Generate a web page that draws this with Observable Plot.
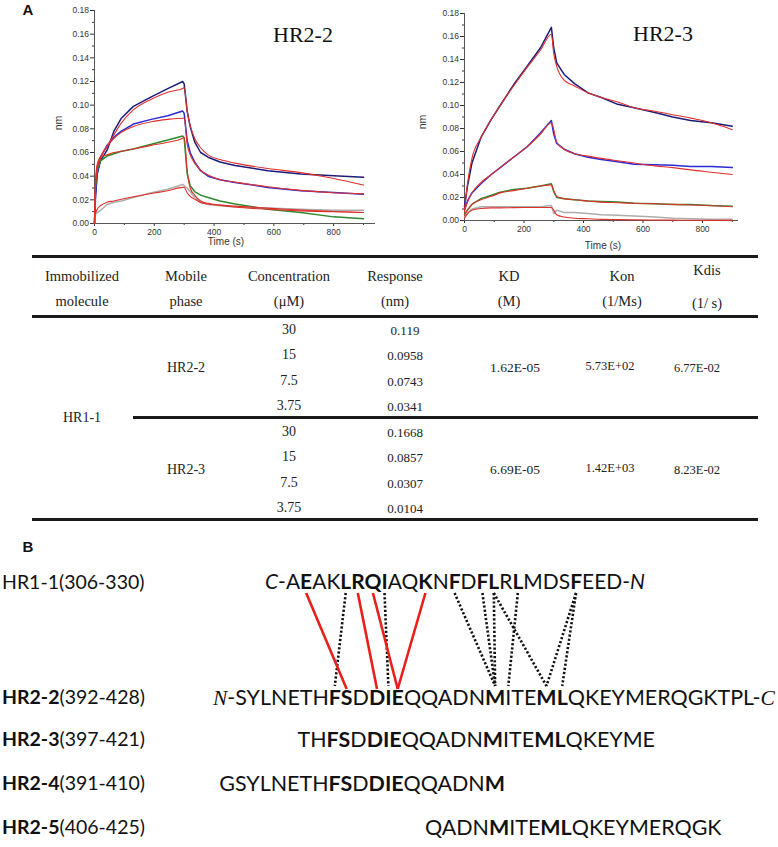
<!DOCTYPE html>
<html><head><meta charset="utf-8">
<script src="https://cdn.jsdelivr.net/npm/d3@7"></script>
<script src="https://cdn.jsdelivr.net/npm/@observablehq/plot@0.6"></script>
<style>
body{margin:0;background:#fff;}
#root{position:relative;width:778px;height:847px;overflow:hidden;background:#fff;}
.t{position:absolute;white-space:nowrap;line-height:1;transform:translate(-50%,-50%);color:#222;}
.hl{position:absolute;background:#1a1a1a;height:3px;}
.abs{position:absolute;}
</style></head><body><div id="root"></div>
<script>
// ---------- Panel A: sensorgram data ----------
const yTicks = [0, 0.02, 0.04, 0.06, 0.08, 0.10, 0.12, 0.14, 0.16, 0.18];
const yMinorTicks = [0.01, 0.03, 0.05, 0.07, 0.09, 0.11, 0.13, 0.15, 0.17];
const xTicks = [0, 200, 400, 600, 800];
const xMinorTicks = [100, 300, 500, 700, 900];

// HR2-2 (left)
const leftTimes = [0, 3, 9, 20, 42, 65, 90, 130, 190, 245, 295, 300, 310, 320, 335, 355, 380, 420, 470, 580, 690, 800, 900];
const left30raw = [0, 0.025, 0.042, 0.053, 0.062, 0.078, 0.089, 0.099, 0.107, 0.114, 0.120, 0.118, 0.095, 0.082, 0.069, 0.060, 0.056, 0.052, 0.049, 0.0446, 0.0418, 0.0403, 0.039];
const left30fit = [0, 0.030, 0.048, 0.056, 0.065, 0.075, 0.085, 0.096, 0.105, 0.111, 0.114, 0.115, 0.095, 0.083, 0.072, 0.064, 0.058, 0.054, 0.051, 0.0465, 0.043, 0.038, 0.0325];
const left15raw = [0, 0.020, 0.042, 0.056, 0.066, 0.073, 0.078, 0.084, 0.088, 0.091, 0.095, 0.093, 0.070, 0.060, 0.052, 0.0446, 0.040, 0.037, 0.0347, 0.0305, 0.0277, 0.0262, 0.0248];
const left15fit = [0, 0.030, 0.046, 0.055, 0.065, 0.072, 0.077, 0.082, 0.086, 0.088, 0.089, 0.089, 0.067, 0.058, 0.051, 0.045, 0.041, 0.037, 0.035, 0.031, 0.028, 0.026, 0.025];
const left7raw = [0, 0.030, 0.045, 0.053, 0.057, 0.059, 0.061, 0.063, 0.067, 0.0705, 0.074, 0.072, 0.042, 0.032, 0.027, 0.024, 0.022, 0.019, 0.0164, 0.0121, 0.0093, 0.0056, 0.004];
const left7fit = [0, 0.035, 0.050, 0.056, 0.058, 0.060, 0.061, 0.063, 0.066, 0.0686, 0.072, 0.073, 0.045, 0.030, 0.024, 0.019, 0.017, 0.0155, 0.014, 0.012, 0.0107, 0.0099, 0.0093];
const left3raw = [0, 0.008, 0.009, 0.011, 0.016, 0.018, 0.019, 0.022, 0.026, 0.029, 0.033, 0.032, 0.030, 0.027, 0.022, 0.0178, 0.016, 0.015, 0.014, 0.013, 0.012, 0.0113, 0.0113];
const left3fit = [0, 0.008, 0.012, 0.015, 0.018, 0.019, 0.0205, 0.0226, 0.0254, 0.0277, 0.0305, 0.0305, 0.026, 0.023, 0.0206, 0.0178, 0.0165, 0.0155, 0.0147, 0.013, 0.0113, 0.0102, 0.0093];

// HR2-3 (right)
const rightTimes = [0, 10, 25, 55, 90, 120, 165, 210, 255, 292, 300, 310, 335, 370, 415, 460, 515, 570, 640, 700, 760, 830, 900];
const right30raw = [0.012, 0.030, 0.050, 0.072, 0.088, 0.100, 0.118, 0.134, 0.150, 0.168, 0.150, 0.137, 0.127, 0.119, 0.111, 0.107, 0.101, 0.098, 0.094, 0.090, 0.087, 0.085, 0.082];
const right30fit = [0.008, 0.032, 0.054, 0.072, 0.088, 0.100, 0.117, 0.133, 0.148, 0.162, 0.145, 0.134, 0.122, 0.117, 0.111, 0.107, 0.103, 0.098, 0.095, 0.092, 0.089, 0.085, 0.079];
const right15raw = [0.010, 0.017, 0.024, 0.032, 0.040, 0.046, 0.055, 0.064, 0.076, 0.087, 0.075, 0.067, 0.062, 0.058, 0.055, 0.053, 0.051, 0.049, 0.0485, 0.048, 0.047, 0.047, 0.046];
const right15fit = [0.008, 0.016, 0.024, 0.033, 0.040, 0.046, 0.055, 0.064, 0.075, 0.085, 0.079, 0.068, 0.062, 0.058, 0.056, 0.054, 0.052, 0.050, 0.0475, 0.046, 0.044, 0.042, 0.040];
const right7raw = [0.005, 0.009, 0.014, 0.019, 0.022, 0.0246, 0.027, 0.028, 0.030, 0.032, 0.025, 0.020, 0.019, 0.018, 0.017, 0.0165, 0.016, 0.015, 0.0145, 0.014, 0.014, 0.013, 0.0125];
const right7fit = [0.005, 0.009, 0.014, 0.018, 0.021, 0.024, 0.026, 0.028, 0.030, 0.031, 0.026, 0.021, 0.019, 0.018, 0.017, 0.016, 0.0155, 0.015, 0.0145, 0.014, 0.0135, 0.0128, 0.012];
const right3raw = [0.003, 0.006, 0.010, 0.012, 0.012, 0.012, 0.012, 0.012, 0.012, 0.013, 0.006, 0.009, 0.007, 0.007, 0.006, 0.005, 0.0045, 0.004, 0.003, 0.002, 0.0015, 0.001, 0.001];
const right3fit = [0.002, 0.006, 0.009, 0.0105, 0.011, 0.011, 0.0112, 0.0113, 0.0113, 0.0113, 0.009, 0.005, 0.003, 0.002, 0.0015, 0.001, 0.0008, 0.0006, 0.0004, 0.0003, 0.0002, 0.0001, 0.0001];

const seriesColors = ["#1b1b7a", "#2a2ad8", "#2d8a2d", "#adadad"];
const fitColor = "#e0302c";

// ---------- Table data ----------
const headerRow1 = ["Immobilized", "Mobile", "Concentration", "Response", "KD", "Kon", "Kdis"];
const headerRow2 = ["molecule", "phase", "(\u03bcM)", "(nm)", "(M)", "(1/Ms)", "(1/ s)"];
const immobilized = "HR1-1";
const mobilePhases = ["HR2-2", "HR2-3"];
const concentrations = ["30", "15", "7.5", "3.75"];
const responses = [["0.119", "0.0958", "0.0743", "0.0341"], ["0.1668", "0.0857", "0.0307", "0.0104"]];
const kdValues = ["1.62E-05", "6.69E-05"];
const konValues = ["5.73E+02", "1.42E+03"];
const kdisValues = ["6.77E-02", "8.23E-02"];

// ---------- Panel B data ----------
const rowLabels = [["", "HR1-1(306-330)"], ["HR2-2", "(392-428)"], ["HR2-3", "(397-421)"], ["HR2-4", "(391-410)"], ["HR2-5", "(406-425)"]];
const hr1Seq = "C-AEAKLRQIAQKNFDFLRLMDSFEED-N";
const hr1Bold = [3, 6, 7, 8, 9, 12, 14, 16, 17, 19, 23];
const hr1Italic = [0, 28];
const hr22Seq = "N-SYLNETHFSDDIEQQADNMITEMLQKEYMERQGKTPL-C";
const hr22Bold = [9, 10, 12, 13, 14, 20, 24, 25];
const hr22SerifItalic = [0, 40];
const hr23Seq = "THFSDDIEQQADNMITEMLQKEYME";
const hr23Bold = [2, 3, 5, 6, 7, 13, 17, 18];
const hr24Seq = "GSYLNETHFSDDIEQQADNM";
const hr24Bold = [8, 9, 11, 12, 13, 19];
const hr25Seq = "QADNMITEMLQKEYMERQGK";
const hr25Bold = [4, 8, 9];
// pairs: [index in HR1-1 sequence, index in HR2-2 sequence]
const saltBridges = [[3, 10], [7, 12], [8, 14], [12, 14]];
const hydrophobicContacts = [[6, 9], [9, 13], [14, 20], [16, 20], [17, 20], [17, 24], [19, 21], [23, 24], [23, 25]];

// ---------- helpers ----------
const root = document.getElementById("root");
function txt(content, x, y, style) {
  const d = document.createElement("div");
  d.className = "t";
  d.textContent = content;
  d.style.left = x + "px";
  d.style.top = y + "px";
  Object.assign(d.style, style || {});
  root.appendChild(d);
  return d;
}
function hline(x0, x1, y) {
  const d = document.createElement("div");
  d.className = "hl";
  d.style.left = x0 + "px"; d.style.width = (x1 - x0) + "px"; d.style.top = (y - 1.5) + "px";
  root.appendChild(d);
}

function sensorPlot(times, raws, fits, xMax, w, h, m) {
  const marks = [
    Plot.axisY({ticks: yTicks, tickSize: 4, tickPadding: 1.5, tickFormat: d3.format(".2f"), label: null}),
    Plot.axisY({ticks: yMinorTicks, tickSize: 2, tickFormat: () => "", label: null}),
    Plot.axisX({ticks: xTicks, tickSize: 3, tickPadding: 2, tickFormat: d3.format("d"), label: null}),
    Plot.axisX({ticks: xMinorTicks, tickSize: 2, tickFormat: () => "", label: null}),
    Plot.ruleX([0], {stroke: "#555"}),
    Plot.ruleY([0], {stroke: "#555"})
  ];
  raws.forEach((vals, k) => {
    marks.push(Plot.line(times.map((t, i) => ({t, v: vals[i]})), {x: "t", y: "v", stroke: seriesColors[k], strokeWidth: 1.5}));
  });
  fits.forEach((vals) => {
    marks.push(Plot.line(times.map((t, i) => ({t, v: vals[i]})), {x: "t", y: "v", stroke: fitColor, strokeWidth: 1.1, curve: "monotone-x"}));
  });
  return Plot.plot({
    width: w, height: h,
    marginLeft: m[0], marginRight: m[1], marginTop: m[2], marginBottom: m[3],
    x: {domain: [0, xMax]},
    y: {domain: [0, 0.18]},
    style: {fontFamily: "'Liberation Sans', Arial, sans-serif", fontSize: "8.5px", color: "#333", background: "transparent"},
    marks
  });
}

// ---------- Panel A plots ----------
const p1 = sensorPlot(leftTimes, [left30raw, left15raw, left7raw, left3raw], [left30fit, left15fit, left7fit, left3fit], 940, 400, 250, [94, 25, 10, 27]);
p1.classList.add("abs"); p1.style.left = "0px"; p1.style.top = "0px";
root.appendChild(p1);
const p2 = sensorPlot(rightTimes, [right30raw, right15raw, right7raw, right3raw], [right30fit, right15fit, right7fit, right3fit], 921, 378, 250, [64, 40, 13, 30]);
p2.classList.add("abs"); p2.style.left = "400px"; p2.style.top = "0px";
root.appendChild(p2);

const sans = "'Liberation Sans', Arial, sans-serif";
const serif = "'Liberation Serif', 'Times New Roman', serif";
txt("A", 28, 9, {fontFamily: sans, fontWeight: "bold", fontSize: "15px", color: "#111"});
txt("HR2-2", 303, 35, {fontFamily: serif, fontSize: "22px", color: "#111"});
txt("HR2-3", 663, 34, {fontFamily: serif, fontSize: "22px", color: "#111"});
txt("nm", 58, 123, {fontFamily: sans, fontSize: "10.5px", transform: "translate(-50%,-50%) rotate(-90deg)", color: "#333"});
txt("nm", 422, 122, {fontFamily: sans, fontSize: "10.5px", transform: "translate(-50%,-50%) rotate(-90deg)", color: "#333"});
txt("Time (s)", 226, 242, {fontFamily: sans, fontSize: "10px", color: "#333"});
txt("Time (s)", 603, 246, {fontFamily: sans, fontSize: "10px", color: "#333"});

// ---------- Table ----------
const headCols = [82, 186, 289, 395, 509, 622, 707];
const headY1 = [276, 276, 276, 276, 276, 276, 270];
const headY2 = [301, 301, 301, 301, 301, 301, 303];
headerRow1.forEach((s, i) => txt(s, headCols[i], headY1[i], {fontFamily: serif, fontSize: "14.5px"}));
headerRow2.forEach((s, i) => txt(s, headCols[i], headY2[i], {fontFamily: serif, fontSize: "14.5px"}));
hline(32, 758, 256);
hline(32, 758, 316);
hline(133, 758, 417);
hline(32, 758, 519);
const groupRowY = [[330, 355, 381, 406], [432, 457, 483, 508]];
txt(immobilized, 82, 418, {fontFamily: serif, fontSize: "14px"});
mobilePhases.forEach((s, g) => {
  const yc = (groupRowY[g][0] + groupRowY[g][3]) / 2;
  txt(s, 186, yc, {fontFamily: serif, fontSize: "14px"});
  concentrations.forEach((c, r) => txt(c, 289, groupRowY[g][r], {fontFamily: serif, fontSize: "14px"}));
  responses[g].forEach((v, r) => txt(v, 405, groupRowY[g][r], {fontFamily: serif, fontSize: "13px"}));
  txt(kdValues[g], 515, yc, {fontFamily: serif, fontSize: "13.5px"});
  txt(konValues[g], 610, yc - 2, {fontFamily: serif, fontSize: "12.5px"});
  txt(kdisValues[g], 697, yc, {fontFamily: serif, fontSize: "12.5px"});
});

// ---------- Panel B ----------
txt("B", 28, 546, {fontFamily: sans, fontWeight: "bold", fontSize: "15px", color: "#111"});
const B0 = 530;
const svgB = d3.create("svg").attr("width", 778).attr("height", 317).attr("class", "abs")
  .style("left", "0px").style("top", B0 + "px").style("overflow", "visible");
root.appendChild(svgB.node());
const rowY = [582, 697, 739, 783, 827].map(v => v - B0);
const lato = "Lato, 'Noto Sans', sans-serif";

rowLabels.forEach(([b, r], i) => {
  const t = svgB.append("text").attr("x", 2).attr("y", rowY[i]).attr("dy", "0.35em")
    .attr("font-family", lato).attr("font-size", 19.5).attr("fill", "#111");
  if (b) t.append("tspan").attr("font-weight", "bold").text(b);
  t.append("tspan").text(r);
});

function drawSeq(seq, bold, ital, serifItal, x, y, anchor, fs) {
  const t = svgB.append("text").attr("x", x).attr("y", y).attr("dy", "0.35em")
    .attr("text-anchor", anchor).attr("font-family", lato).attr("font-size", fs).attr("fill", "#111");
  [...seq].forEach((ch, i) => {
    const ts = t.append("tspan").text(ch);
    if (bold.includes(i)) ts.attr("font-weight", "bold");
    if (ital.includes(i)) ts.attr("font-style", "italic");
    if (serifItal.includes(i)) ts.attr("font-family", serif).attr("font-style", "italic");
  });
  return t;
}
function fitWidth(t, target) {
  const fs = +t.attr("font-size");
  const len = t.node().getComputedTextLength();
  const nfs = fs * target / len;
  t.attr("font-size", nfs);
  return nfs;
}
// fit HR2-2 and HR1-1 sequences to their spans in the figure
const t22 = drawSeq(hr22Seq, hr22Bold, [], hr22SerifItalic, 213, rowY[1], "start", 20);
const seqFs = fitWidth(t22, 775 - 213);
const t1 = drawSeq(hr1Seq, hr1Bold, hr1Italic, [], 265, rowY[0], "start", seqFs);
fitWidth(t1, 645 - 265);
drawSeq(hr23Seq, hr23Bold, [], [], 655, rowY[2], "end", seqFs);
drawSeq(hr24Seq, hr24Bold, [], [], 505, rowY[3], "end", seqFs);
drawSeq(hr25Seq, hr25Bold, [], [], 425, rowY[4], "start", seqFs);

function charX(node, i) {
  const a = node.getStartPositionOfChar(i).x, b = node.getEndPositionOfChar(i).x;
  return (a + b) / 2;
}
const yTop = 593 - B0, yBot = 686 - B0;
hydrophobicContacts.forEach(([a, b]) => {
  svgB.append("line").attr("x1", charX(t1.node(), a)).attr("y1", yTop)
    .attr("x2", charX(t22.node(), b)).attr("y2", yBot)
    .attr("stroke", "#111").attr("stroke-width", 2.6).attr("stroke-dasharray", "2.2,2");
});
saltBridges.forEach(([a, b]) => {
  svgB.append("line").attr("x1", charX(t1.node(), a)).attr("y1", yTop)
    .attr("x2", charX(t22.node(), b)).attr("y2", yBot + 3)
    .attr("stroke", "#e8201c").attr("stroke-width", 2.6);
});
</script></body></html>
